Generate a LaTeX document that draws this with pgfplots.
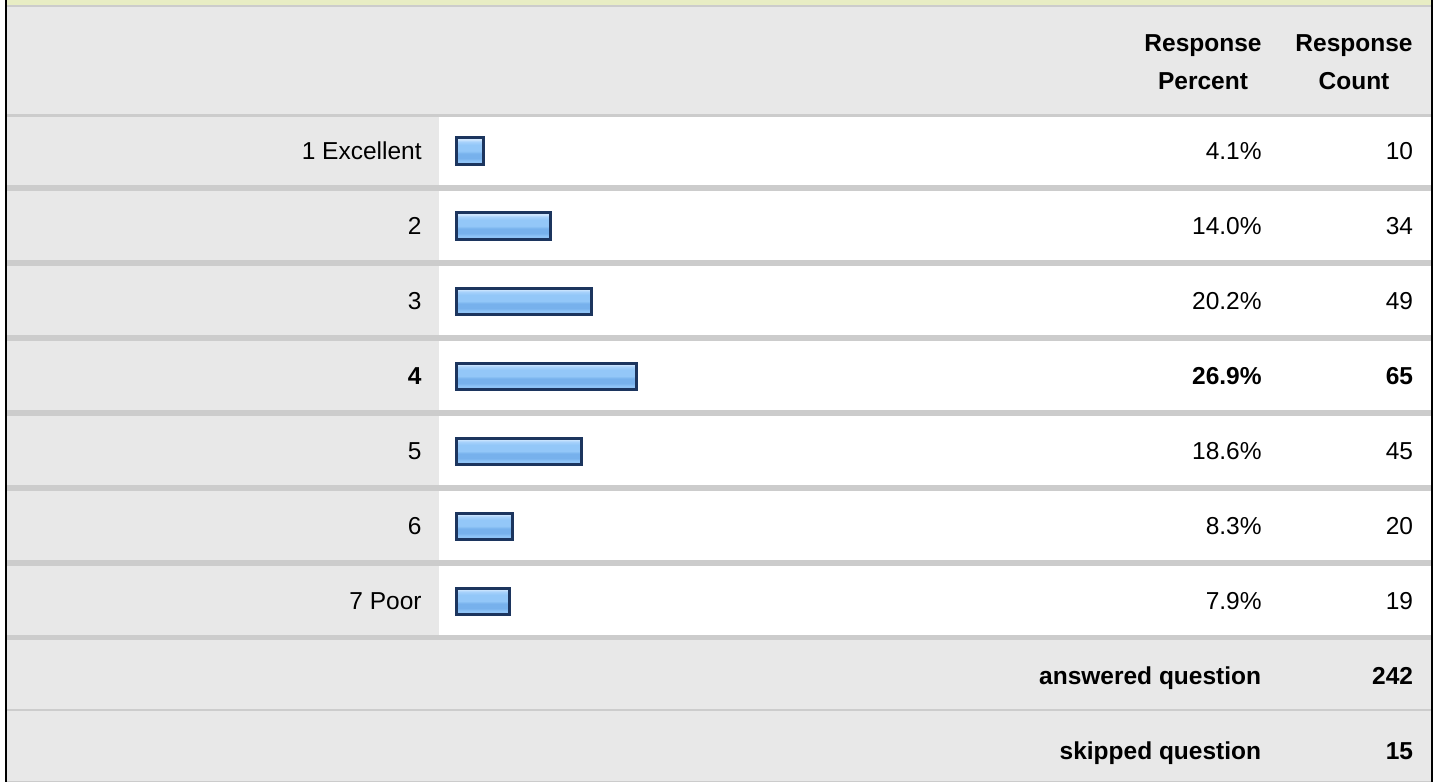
\documentclass[border=0pt]{standalone}
\usepackage{pgfplots}
\pgfplotsset{compat=1.18}
\usepackage{fontspec}
\setmainfont{Liberation Sans}
\definecolor{gbg}{HTML}{E8E8E8}
\definecolor{sep}{HTML}{CCCCCC}
\definecolor{ylw}{HTML}{E8EDC4}
\definecolor{barborder}{HTML}{1C355E}
\definecolor{bA}{HTML}{CFE6FD}
\definecolor{bB}{HTML}{A8D2FB}
\definecolor{bC}{HTML}{93C7F8}
\definecolor{bD}{HTML}{77B1EC}
\definecolor{bE}{HTML}{8EC3F6}
\pgfdeclareverticalshading{barshade}{100bp}{color(0bp)=(bE); color(25bp)=(bE); color(31bp)=(bE); color(36bp)=(bD); color(45bp)=(bD); color(50bp)=(bC); color(62bp)=(bC); color(68bp)=(bB); color(72bp)=(bA); color(75bp)=(bA); color(100bp)=(bA)}
\pgfplotsset{surveybar/.style={xbar, bar shift=0pt, bar width=0.3467, draw=barborder, line width=1.5pt, shading=barshade, shade}}
\begin{document}
\begin{tikzpicture}
% background table in pixel coordinates
\begin{axis}[at={(0,0)}, anchor=south west, scale only axis,
  width=718.5pt, height=391pt, xmin=0, xmax=1437, ymin=0, ymax=782,
  y dir=reverse, hide axis, clip=false]
  \fill[white] (0,0) rectangle (1437,782);
  \fill[ylw] (7,0) rectangle (1431,5);
  \fill[sep] (7,5) rectangle (1431,7);
  \fill[gbg] (7,7) rectangle (1431,114);
  \fill[sep] (7,114) rectangle (1431,116.5);
  \fill[gbg] (7,116.5) rectangle (439,640);
  \fill[white] (439,116.5) rectangle (1431,640);
  \fill[sep] (7,185) rectangle (1431,190.5);
  \fill[sep] (7,260) rectangle (1431,265.5);
  \fill[sep] (7,335) rectangle (1431,340.5);
  \fill[sep] (7,410) rectangle (1431,415.5);
  \fill[sep] (7,485) rectangle (1431,490.5);
  \fill[sep] (7,560) rectangle (1431,565.5);
  \fill[sep] (7,634.5) rectangle (1431,640);
  \fill[gbg] (7,640) rectangle (1431,780.5);
  \fill[sep] (7,708.5) rectangle (1431,710.5);
  \fill[sep] (7,780.5) rectangle (1431,782);
  \fill[black] (4.5,0) rectangle (7,782);
  \fill[black] (1430.5,0) rectangle (1433,782);
  \begin{scope}[every node/.style={font=\fontsize{12.25}{14}\selectfont, inner sep=0pt, text=black}]
    \node[anchor=base] at (1203,51.5) {\bfseries Response};
    \node[anchor=base] at (1203,89.5) {\bfseries Percent};
    \node[anchor=base] at (1354,51.5) {\bfseries Response};
    \node[anchor=base] at (1354,89.5) {\bfseries Count};
    \node[anchor=base east] at (422,159.5) {1 Excellent};
    \node[anchor=base east] at (422,234.5) {2};
    \node[anchor=base east] at (422,309.5) {3};
    \node[anchor=base east] at (422,384.5) {\bfseries 4};
    \node[anchor=base east] at (422,459.5) {5};
    \node[anchor=base east] at (422,534.5) {6};
    \node[anchor=base east] at (422,609.5) {7 Poor};
    \node[anchor=base east] at (1262,159.5) {4.1\%};
    \node[anchor=base east] at (1262,234.5) {14.0\%};
    \node[anchor=base east] at (1262,309.5) {20.2\%};
    \node[anchor=base east] at (1262,384.5) {\bfseries 26.9\%};
    \node[anchor=base east] at (1262,459.5) {18.6\%};
    \node[anchor=base east] at (1262,534.5) {8.3\%};
    \node[anchor=base east] at (1262,609.5) {7.9\%};
    \node[anchor=base east] at (1413.5,159.5) {10};
    \node[anchor=base east] at (1413.5,234.5) {34};
    \node[anchor=base east] at (1413.5,309.5) {49};
    \node[anchor=base east] at (1413.5,384.5) {\bfseries 65};
    \node[anchor=base east] at (1413.5,459.5) {45};
    \node[anchor=base east] at (1413.5,534.5) {20};
    \node[anchor=base east] at (1413.5,609.5) {19};
    \node[anchor=base east] at (1261.5,684) {\bfseries answered question};
    \node[anchor=base east] at (1413.5,684) {\bfseries 242};
    \node[anchor=base east] at (1261.5,759) {\bfseries skipped question};
    \node[anchor=base east] at (1413.5,759) {\bfseries 15};
  \end{scope}
\end{axis}
% bars (x = response percent, y = answer row)
\begin{axis}[at={(0,0)}, anchor=south west, scale only axis,
  width=718.5pt, height=391pt,
  xmin=-68.134, xmax=146.343, ymin=-1.01333, ymax=9.41333,
  y dir=reverse, hide axis, clip=false]
  \addplot[surveybar] coordinates {(4.1,1)};
  \addplot[surveybar] coordinates {(14.0,2)};
  \addplot[surveybar] coordinates {(20.2,3)};
  \addplot[surveybar] coordinates {(26.9,4)};
  \addplot[surveybar] coordinates {(18.6,5)};
  \addplot[surveybar] coordinates {(8.3,6)};
  \addplot[surveybar] coordinates {(7.9,7)};
\end{axis}
\end{tikzpicture}
\end{document}
